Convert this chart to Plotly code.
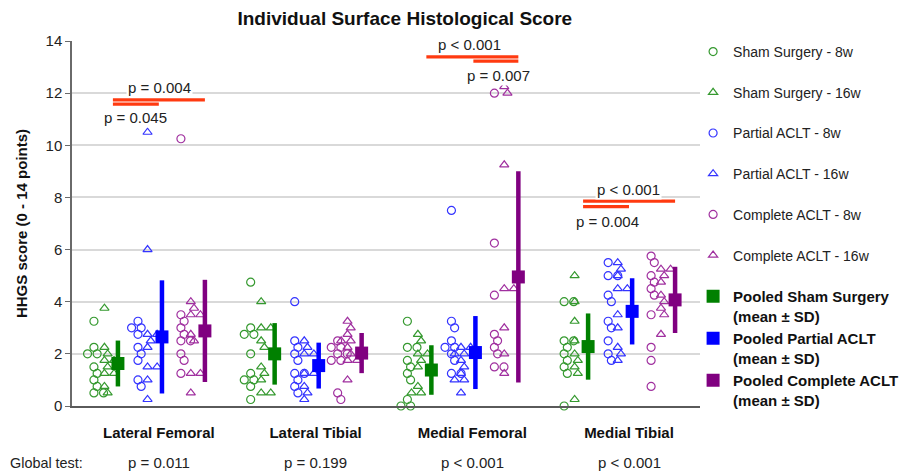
import plotly.graph_objects as go

# ---------------- data ----------------
categories = ["Lateral Femoral", "Lateral Tibial", "Medial Femoral", "Medial Tibial"]
global_p = ["p = 0.011", "p = 0.199", "p < 0.001", "p < 0.001"]

sham_8w = [
    [3.25, 2.25, 2.0, 2.0, 1.5, 1.25, 1.0, 0.75, 0.5, 0.5],
    [4.75, 3.0, 2.75, 2.75, 2.0, 1.25, 1.0, 1.0, 0.75, 0.25],
    [3.25, 2.25, 2.25, 1.75, 1.5, 1.25, 1.0, 0.25, 0.0, 0.0],
    [4.0, 4.0, 2.5, 2.5, 2.25, 2.0, 1.75, 1.5, 1.25, 0.0],
]
sham_16w = [
    [3.75, 2.25, 2.0, 1.75, 1.75, 1.5, 1.25, 1.25, 0.75, 0.5],
    [4.0, 3.0, 3.0, 2.5, 2.25, 1.5, 1.25, 1.0, 0.5, 0.5],
    [2.75, 2.5, 2.0, 2.0, 1.75, 1.5, 0.75, 0.5, 0.5],
    [5.0, 4.0, 3.25, 2.5, 2.0, 1.75, 1.5, 1.25, 0.25],
]
partial_8w = [
    [3.25, 3.0, 3.0, 2.75, 2.25, 2.0, 1.75, 1.0, 0.75],
    [4.0, 2.5, 2.25, 2.0, 1.75, 1.25, 1.25, 1.0, 0.75, 0.5],
    [7.5, 3.25, 3.0, 2.5, 2.25, 2.25, 2.0, 1.75, 1.25, 1.25],
    [5.5, 5.0, 5.0, 4.25, 4.0, 3.25, 3.0, 2.5, 2.0, 1.75],
]
partial_16w = [
    [10.5, 6.0, 2.75, 2.75, 2.5, 2.25, 1.5, 1.5, 1.0, 0.25],
    [2.5, 2.25, 2.0, 2.0, 1.25, 1.25, 0.75, 0.5, 0.25],
    [2.25, 2.25, 2.0, 2.0, 1.75, 1.5, 1.25, 1.0, 1.0, 0.5],
    [5.5, 5.25, 5.0, 4.5, 4.5, 3.5, 3.0, 2.25, 2.0, 1.75],
]
complete_8w = [
    [10.25, 3.5, 3.25, 3.0, 2.75, 2.5, 2.5, 2.0, 1.75, 1.25],
    [2.5, 2.25, 2.25, 2.0, 2.0, 1.75, 1.75, 0.5, 0.25],
    [12.0, 6.25, 4.25, 2.75, 2.5, 2.25, 2.0, 1.5, 1.5],
    [5.75, 5.5, 5.0, 4.75, 4.5, 4.25, 3.5, 2.25, 1.75, 0.75],
]
complete_16w = [
    [4.0, 3.75, 3.5, 3.5, 2.75, 2.5, 1.25, 1.25, 0.5],
    [3.25, 3.0, 2.75, 2.5, 2.5, 2.25, 2.0, 1.75, 1.75, 1.0],
    [12.25, 12.0, 9.25, 4.5, 4.5, 3.0, 2.0, 1.25],
    [5.25, 5.25, 5.0, 4.75, 4.25, 4.0, 3.75, 3.5, 2.75],
]
pooled_sham_mean = [1.63, 2.0, 1.38, 2.28]
pooled_sham_sd = [0.88, 1.18, 0.95, 1.27]
pooled_partial_mean = [2.65, 1.55, 2.05, 3.63]
pooled_partial_sd = [2.17, 0.88, 1.40, 1.27]
pooled_complete_mean = [2.88, 2.03, 4.95, 4.07]
pooled_complete_sd = [1.96, 0.77, 4.05, 1.27]

# pairwise comparisons: (category index, from group, to group, p label)
comparisons = [
    (0, "sham", "complete", "p = 0.004"),
    (0, "sham", "partial", "p = 0.045"),
    (2, "sham", "complete", "p < 0.001"),
    (2, "partial", "complete", "p = 0.007"),
    (3, "sham", "complete", "p < 0.001"),
    (3, "sham", "partial", "p = 0.004"),
]

# ---------------- layout helpers (positions / styles) ----------------
FONT = "Liberation Sans, Arial, sans-serif"
PX_X = 156.7   # pixels per category unit
PX_Y = 26.07   # pixels per score unit
group_offset = {"sham": -0.281, "partial": 0.0, "complete": 0.274}
series = [
    ("Sham Surgery - 8w", sham_8w, -0.434, "circle-open", "#35992f"),
    ("Sham Surgery - 16w", sham_16w, -0.367, "triangle-up-open", "#35992f"),
    ("Partial ACLT - 8w", partial_8w, -0.153, "circle-open", "#3434ff"),
    ("Partial ACLT - 16w", partial_16w, -0.092, "triangle-up-open", "#3434ff"),
    ("Complete ACLT - 8w", complete_8w, 0.121, "circle-open", "#a0309f"),
    ("Complete ACLT - 16w", complete_16w, 0.184, "triangle-up-open", "#a0309f"),
]
pooled = [
    ("Pooled Sham Surgery<br>(mean ± SD)", pooled_sham_mean, pooled_sham_sd, "sham", "#008000"),
    ("Pooled Partial ACLT<br>(mean ± SD)", pooled_partial_mean, pooled_partial_sd, "partial", "#0000ff"),
    ("Pooled Complete ACLT<br>(mean ± SD)", pooled_complete_mean, pooled_complete_sd, "complete", "#800080"),
]


def dodge(vals, base, dmin=7.0, step=3.2):
    """simple beeswarm: shift overlapping points sideways (pixel space)."""
    placed = []
    out = [None] * len(vals)
    order = sorted(range(len(vals)), key=lambda k: -vals[k])
    for k in order:
        yp = vals[k] * PX_Y
        j = 0
        while True:
            n = (j + 1) // 2 * (1 if j % 2 else -1)
            xp = n * step
            if all((xp - a) ** 2 + (yp - b) ** 2 >= dmin ** 2 for a, b in placed):
                break
            j += 1
        placed.append((xp, yp))
        out[k] = base + xp / PX_X
    return out


fig = go.Figure()

for name, data, off, sym, col in series:
    xs, ys = [], []
    for i, vals in enumerate(data):
        xs += dodge(vals, i + off)
        ys += vals
    fig.add_trace(go.Scatter(
        x=xs, y=ys, mode="markers", name=name, legendgroup=name,
        marker=dict(symbol=sym, size=8, color=col, line=dict(width=1.2, color=col)),
        cliponaxis=False, hoverinfo="y",
    ))

for name, means, sds, grp, col in pooled:
    fig.add_trace(go.Scatter(
        x=[i + group_offset[grp] for i in range(len(means))], y=means,
        mode="markers", name=name, legend="legend2", legendgroup=name,
        marker=dict(symbol="square", size=13, color=col),
        error_y=dict(type="data", array=sds, visible=True, thickness=4.5, width=0, color=col),
        cliponaxis=False,
    ))

# significance bars and labels (bar heights are layout positions)
sig_layout = [
    (11.74, -0.013, 12.2),
    (11.58, -0.172, 11.05),
    (13.39, -0.038, 13.85),
    (13.23, 0.147, 12.66),
    (7.86, -0.026, 8.32),
    (7.65, -0.160, 7.06),
]
annotations = []
shapes = []
for (ci, g1, g2, lab), (ybar, tx, ty) in zip(comparisons, sig_layout):
    x0 = ci + group_offset[g1] - 0.032
    x1 = ci + group_offset[g2] + (0.0 if g2 == "complete" else -0.02)
    if g1 == "partial":
        x0 = ci + group_offset[g1] - 0.013
    shapes.append(dict(type="line", xref="x", yref="y", x0=x0, x1=x1, y0=ybar, y1=ybar,
                       line=dict(color="#ff3a10", width=3.2)))
    annotations.append(dict(x=ci + tx, y=ty, xref="x", yref="y", text=lab, showarrow=False,
                            font=dict(family=FONT, size=15, color="#222"),
                            bgcolor="white", borderpad=1))

annotations.append(dict(x=-0.102, y=-0.156, xref="paper", yref="paper", text="Global test:",
                        showarrow=False, xanchor="left", yanchor="middle",
                        font=dict(family=FONT, size=14.4, color="#222")))
for i, p in enumerate(global_p):
    annotations.append(dict(x=i - 0.02, y=-0.156, xref="x", yref="paper", text=p,
                            showarrow=False, yanchor="middle",
                            font=dict(family=FONT, size=15, color="#222")))

fig.update_layout(
    width=907, height=475,
    margin=dict(l=72, r=207, t=41, b=69, autoexpand=False),
    paper_bgcolor="white", plot_bgcolor="white",
    font=dict(family=FONT, size=15, color="#222"),
    title=dict(text="<b>Individual Surface Histological Score</b>", x=0.530, xref="paper",
               y=1 - 18 / 475, yref="container", yanchor="middle", xanchor="center",
               font=dict(family=FONT, size=19, color="#111")),
    xaxis=dict(range=[-0.574, 3.433], tickvals=[i - 0.02 for i in range(len(categories))],
               ticktext=["<b>%s</b>" % c for c in categories], showgrid=False, zeroline=False,
               showline=True, linecolor="#5a5a5a", linewidth=2, ticks="",
               ticklabelstandoff=12, tickfont=dict(family=FONT, size=15, color="#111")),
    yaxis=dict(range=[0, 14], tickvals=list(range(0, 15, 2)), showgrid=True,
               gridcolor="#d9d9d9", gridwidth=1.5, zeroline=False, showline=True,
               linecolor="#6a6a6a", linewidth=1.5, ticks="outside", ticklen=5,
               tickcolor="#6a6a6a", tickfont=dict(family=FONT, size=15, color="#222"),
               title=dict(text="<b>HHGS score (0 - 14 points)</b>", standoff=14,
                          font=dict(family=FONT, size=15, color="#111"))),
    legend=dict(x=0.989, y=1.0137, xanchor="left", yanchor="top", tracegroupgap=19.5,
                font=dict(family=FONT, size=14, color="#222"), bgcolor="rgba(0,0,0,0)",
                itemwidth=30, maxheight=420),
    legend2=dict(x=0.989, y=0.3452, xanchor="left", yanchor="top", tracegroupgap=0,
                 font=dict(family=FONT, size=15, color="#111", weight="bold"),
                 bgcolor="rgba(0,0,0,0)", valign="top", itemwidth=30, maxheight=300),
    shapes=shapes,
    annotations=annotations,
    showlegend=True,
)

fig.write_html("out.html")
